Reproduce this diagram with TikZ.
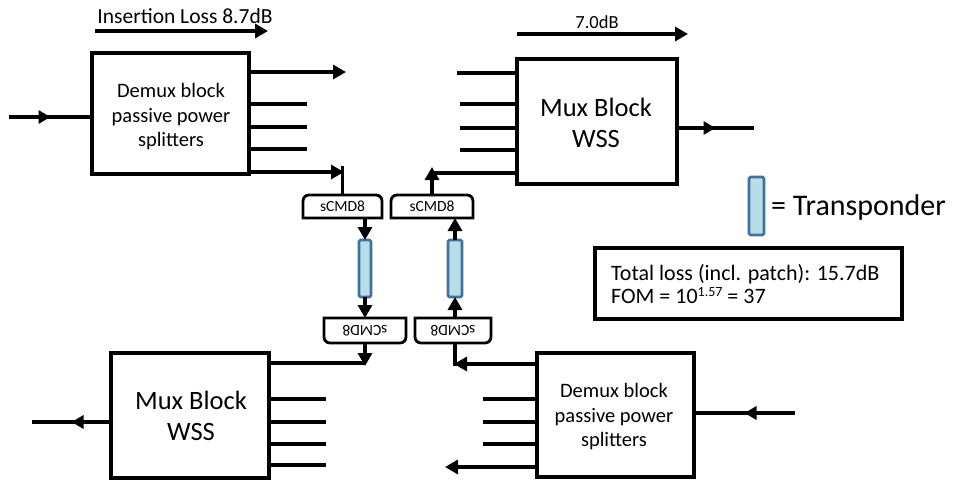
\documentclass[tikz,border=0pt]{standalone}
\usepackage{fontspec}
\setmainfont{Carlito}
\usetikzlibrary{arrows.meta,decorations.markings}
\definecolor{tfill}{RGB}{183,222,232}
\definecolor{tedge}{RGB}{65,113,156}
\newcommand\cmdTop[1]{\draw[cmdline] (#1.south) -- (#1.south west) -- (#1.west) [rounded corners=6pt] -- (#1.north west) -- (#1.north east) -- (#1.east) [sharp corners] -- (#1.south east) -- cycle;}
\newcommand\cmdBot[1]{\draw[cmdline] (#1.north) -- (#1.north west) -- (#1.west) [rounded corners=6pt] -- (#1.south west) -- (#1.south east) -- (#1.east) [sharp corners] -- (#1.north east) -- cycle;}
\begin{document}
\begin{tikzpicture}[x=1pt,y=-1pt,
 blk/.style={draw, line width=3.3pt, inner sep=0pt, outer sep=0pt},
 dmxtext/.style={align=center, inner sep=0pt, font=\fontsize{20.5}{24.5}\selectfont},
 muxtext/.style={align=center, inner sep=0pt, font=\fontsize{26.5}{30.5}\selectfont},
 lead/.style={line width=3.2pt},
 thk/.style={line width=4.3pt},
 tip/.style={-{Triangle[length=13pt,width=14pt]}},
 midtip/.style={postaction={decorate}, decoration={markings, mark=at position 0.5 with {\arrow{Triangle[length=12pt,width=13pt]}}}},
 cmd/.style={inner sep=0pt, outer sep=0pt, font=\fontsize{15.5}{17}\selectfont},
 cmdline/.style={line width=2.8pt},
 trans/.style={draw=tedge, fill=tfill, line width=2.8pt, rounded corners=1.5pt, inner sep=0pt, outer sep=0pt},
]
\useasboundingbox (0,0) rectangle (956,480);

% header labels
\node[font=\fontsize{21.5}{24}\selectfont, anchor=base, inner sep=0pt] (il) at (185,23) {Insertion Loss 8.7dB};
\coordinate (ilA) at (95,31); \coordinate (ilB) at (268,31);
\draw[thk,tip] (ilA) -- (ilB);
\node[font=\fontsize{18.5}{21}\selectfont, anchor=base, inner sep=0pt] (ml) at (597,28) {7.0dB};
\coordinate (mlA) at (517,34); \coordinate (mlB) at (688,34);
\draw[thk,tip] (mlA) -- (mlB);

% blocks
\node[blk, minimum width=157pt, minimum height=121pt] (dmx1) at (170.5,113.5) {};
\node[dmxtext] (dmx1t) at (171,117) {Demux block\\passive power\\splitters};
\node[blk, minimum width=160pt, minimum height=125pt] (mux1) at (597,121.5) {};
\node[muxtext] (mux1t) at (596,123) {Mux Block\\WSS};
\node[blk, minimum width=158pt, minimum height=125pt] (mux2) at (190,415.5) {};
\node[muxtext] (mux2t) at (191,416) {Mux Block\\WSS};
\node[blk, minimum width=157pt, minimum height=124pt] (dmx2) at (615.5,415) {};
\node[dmxtext] (dmx2t) at (614,417) {Demux block\\passive power\\splitters};

% sCMD8 units
\node[cmd, minimum width=79pt, minimum height=23pt] (c1) at (342.5,206.5) {sCMD8};
\node[cmd, minimum width=82pt, minimum height=23pt] (c2) at (432,206.5) {sCMD8};
\node[cmd, minimum width=82pt, minimum height=25pt] (c3) at (365,330.5) {\rotatebox{180}{sCMD8}};
\node[cmd, minimum width=76pt, minimum height=25pt] (c4) at (453,330.5) {\rotatebox{180}{sCMD8}};
\cmdTop{c1}
\cmdTop{c2}
\cmdBot{c3}
\cmdBot{c4}

% transponders
\node[trans, minimum width=12pt, minimum height=57pt] (t1) at (365,268.5) {};
\node[trans, minimum width=14pt, minimum height=57pt] (t2) at (455,268.5) {};

% legend
\node[trans, minimum width=15pt, minimum height=58pt] (tl) at (756.5,206) {};
\node[anchor=base west, inner sep=0pt, font=\fontsize{30}{36}\selectfont] (tlt) at (771,215) {= Transponder};
\node[blk, minimum width=307pt, minimum height=71pt] (tot) at (748.5,283.5) {};
\node[anchor=base west, inner sep=0pt, font=\fontsize{22}{24}\selectfont] (tot1) at (611,280) {Total loss (incl. patch): 15.7dB};
\node[anchor=base west, inner sep=0pt, font=\fontsize{22}{24}\selectfont] (tot2) at (611,303) {FOM = 10{\fontsize{14}{14}\selectfont\raisebox{7pt}{1.57}} = 37};

% demux 1 (top left)
\coordinate (d1i) at (9,117);
\draw[lead,midtip] (d1i) -- (d1i -| dmx1.west);
\coordinate (d1o) at (346,72);
\draw[thk,tip] (d1o -| dmx1.east) -- (d1o);
\foreach \y/\n in {104/a,127/b,149/c}{
  \coordinate (d1\n) at (307,\y);
  \draw[lead] (d1\n -| dmx1.east) -- (d1\n);
}
\coordinate (d1e) at (344,172);
\draw[lead,tip] (d1e -| dmx1.east) -- (d1e);
\coordinate (c1top) at (342.5,166);
\draw[lead] (c1.north) -- (c1top);

% mux 1 (top right)
\foreach \y/\x/\n in {73/457/a,104/460/b,128/460/c,150/460/d}{
  \coordinate (m1\n) at (\x,\y);
  \draw[lead] (m1\n) -- (m1\n -| mux1.west);
}
\coordinate (m1e) at (432,173);
\draw[lead] (m1e) -- (m1e -| mux1.west);
\coordinate (c2top) at (432,167);
\draw[lead,tip] (c2.north) -- (c2top);
\coordinate (m1o) at (754,128);
\draw[lead,midtip] (m1o -| mux1.east) -- (m1o);

% left chain
\draw[lead,tip] (t1.north |- c1.south) -- (t1.north);
\draw[lead,tip] (t1.south) -- (c3.north);
\coordinate (c3bot) at (365,366);
\draw[lead,tip] (c3.south) -- (c3bot);
\coordinate (m2e) at (365,363);
\draw[lead] (m2e -| mux2.east) -- (m2e);

% right chain
\draw[lead,tip] (t2.south |- c4.north) -- (t2.south);
\draw[lead,tip] (t2.north) -- (t2.north |- c2.south);
\coordinate (c4bot) at (455,366);
\draw[lead] (c4bot |- c4.south) -- (c4bot);
\coordinate (d2e) at (454,364);
\draw[thk,tip] (d2e -| dmx2.west) -- (d2e);

% mux 2 (bottom left)
\foreach \y/\n in {399/a,422/b,444/c,465/d}{
  \coordinate (m2\n) at (326,\y);
  \draw[lead] (m2\n -| mux2.east) -- (m2\n);
}
\coordinate (m2o) at (32,422);
\draw[thk,midtip] (m2o -| mux2.west) -- (m2o);

% demux 2 (bottom right)
\foreach \y/\n in {399/a,422/b,444/c}{
  \coordinate (d2\n) at (483,\y);
  \draw[lead] (d2\n) -- (d2\n -| dmx2.west);
}
\coordinate (d2f) at (445,467);
\draw[thk,tip] (d2f -| dmx2.west) -- (d2f);
\coordinate (d2i) at (795,413);
\draw[thk,midtip] (d2i) -- (d2i -| dmx2.east);
\end{tikzpicture}
\end{document}
